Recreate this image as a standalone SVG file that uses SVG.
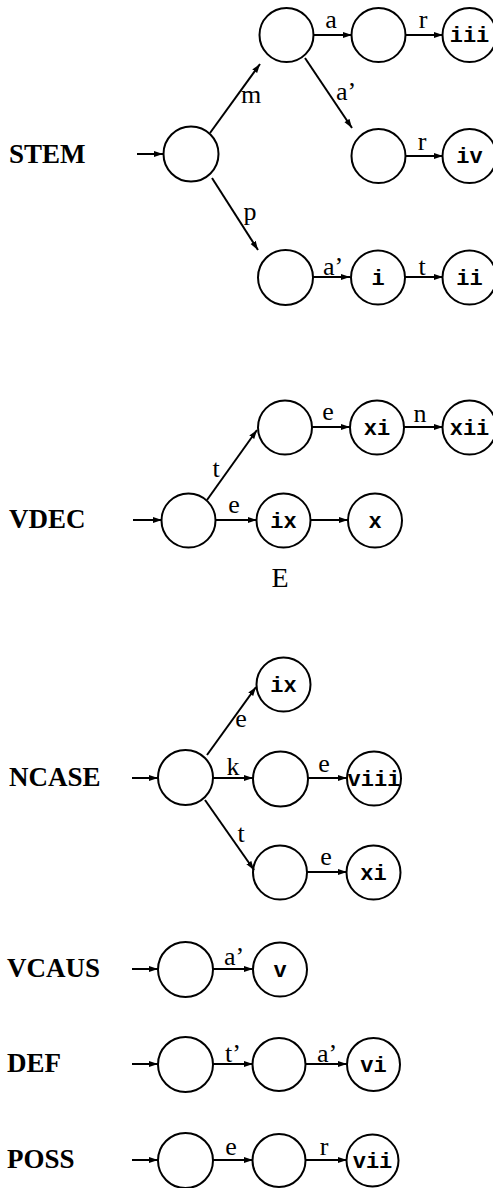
<svg xmlns="http://www.w3.org/2000/svg" width="493" height="1188" viewBox="0 0 493 1188">
<style>
.n{fill:none;stroke:#000;stroke-width:2}
.e{stroke:#000;stroke-width:2;fill:none;marker-end:url(#ah)}
.lbl{font-family:"Liberation Serif",serif;font-weight:bold;font-size:27px;fill:#000}
.el{font-family:"Liberation Serif",serif;font-size:26px;fill:#000;text-anchor:middle}
.nl{font-family:"Liberation Mono",monospace;font-weight:bold;font-size:22px;fill:#000;text-anchor:middle}
</style>
<defs>
<marker id="ah" markerUnits="userSpaceOnUse" markerWidth="10" markerHeight="8" refX="9" refY="3.5" orient="auto">
<path d="M0,0.5 L9,3.5 L0,6.5 Z" fill="#000"/>
</marker>
</defs>
<rect width="493" height="1188" fill="#fff"/>
<g id="row-labels">
<text class="lbl" x="9" y="163">STEM</text>
<text class="lbl" x="9" y="528">VDEC</text>
<text class="lbl" x="9" y="786">NCASE</text>
<text class="lbl" x="7" y="977">VCAUS</text>
<text class="lbl" x="7" y="1072">DEF</text>
<text class="lbl" x="7" y="1168">POSS</text>
</g>
<g id="connectors">
<line class="e" x1="137" y1="154" x2="163" y2="154"/>
<line class="e" x1="210" y1="133" x2="260" y2="64"/>
<line class="e" x1="313" y1="35" x2="352" y2="35"/>
<line class="e" x1="405" y1="35" x2="443" y2="35"/>
<line class="e" x1="305" y1="58" x2="352" y2="128"/>
<line class="e" x1="405" y1="156" x2="443" y2="156"/>
<line class="e" x1="212" y1="178" x2="258" y2="250"/>
<line class="e" x1="313" y1="277" x2="350" y2="277"/>
<line class="e" x1="405" y1="277" x2="443" y2="277"/>
<line class="e" x1="133" y1="520" x2="162" y2="520"/>
<line class="e" x1="207" y1="500" x2="257" y2="430"/>
<line class="e" x1="312" y1="427" x2="350" y2="427"/>
<line class="e" x1="404" y1="427" x2="443" y2="427"/>
<line class="e" x1="215" y1="520" x2="257" y2="520"/>
<line class="e" x1="310" y1="520" x2="348" y2="520"/>
<line class="e" x1="132" y1="778" x2="158" y2="778"/>
<line class="e" x1="207" y1="755" x2="256" y2="687"/>
<line class="e" x1="213" y1="778" x2="253" y2="778"/>
<line class="e" x1="308" y1="778" x2="347" y2="778"/>
<line class="e" x1="205" y1="800" x2="254" y2="870"/>
<line class="e" x1="307" y1="872" x2="347" y2="872"/>
<line class="e" x1="132" y1="969" x2="158" y2="969"/>
<line class="e" x1="213" y1="969" x2="253" y2="969"/>
<line class="e" x1="132" y1="1064" x2="158" y2="1064"/>
<line class="e" x1="213" y1="1064" x2="253" y2="1064"/>
<line class="e" x1="305" y1="1064" x2="347" y2="1064"/>
<line class="e" x1="132" y1="1160" x2="158" y2="1160"/>
<line class="e" x1="213" y1="1160" x2="253" y2="1160"/>
<line class="e" x1="305" y1="1160" x2="347" y2="1160"/>
<text class="el" x="251" y="103">m</text>
<text class="el" x="331" y="28">a</text>
<text class="el" x="423" y="28">r</text>
<text class="el" x="346" y="100">a’</text>
<text class="el" x="422" y="150">r</text>
<text class="el" x="250" y="220">p</text>
<text class="el" x="333" y="275">a’</text>
<text class="el" x="422" y="275">t</text>
<text class="el" x="216" y="477">t</text>
<text class="el" x="328" y="420">e</text>
<text class="el" x="420" y="422">n</text>
<text class="el" x="234" y="513">e</text>
<text class="el" x="241" y="727">e</text>
<text class="el" x="233" y="775">k</text>
<text class="el" x="324" y="772">e</text>
<text class="el" x="241" y="842">t</text>
<text class="el" x="326" y="865">e</text>
<text class="el" x="234" y="965">a’</text>
<text class="el" x="233" y="1062">t’</text>
<text class="el" x="327" y="1062">a’</text>
<text class="el" x="231" y="1155">e</text>
<text class="el" x="324" y="1155">r</text>
</g>
<g id="stem-0"><circle class="n" cx="191" cy="154" r="27.5"/></g>
<g id="stem-m"><circle class="n" cx="286.5" cy="35" r="27"/></g>
<g id="stem-ma"><circle class="n" cx="378.5" cy="35" r="27"/></g>
<g id="stem-iii"><circle class="n" cx="469.5" cy="35" r="27"/><text class="nl" x="469.5" y="42">iii</text></g>
<g id="stem-ma2"><circle class="n" cx="378.5" cy="156" r="27"/></g>
<g id="stem-iv"><circle class="n" cx="469.5" cy="156" r="27"/><text class="nl" x="469.5" y="163">iv</text></g>
<g id="stem-p"><circle class="n" cx="285.5" cy="277.5" r="27.5"/></g>
<g id="stem-i"><circle class="n" cx="378" cy="277.5" r="27"/><text class="nl" x="378" y="285">i</text></g>
<g id="stem-ii"><circle class="n" cx="469.5" cy="277.5" r="27"/><text class="nl" x="469.5" y="285">ii</text></g>
<g id="vdec-0"><circle class="n" cx="188.5" cy="520.5" r="27"/></g>
<g id="vdec-t"><circle class="n" cx="285" cy="427.5" r="27"/></g>
<g id="vdec-xi"><circle class="n" cx="377" cy="427.5" r="27"/><text class="nl" x="377" y="435">xi</text></g>
<g id="vdec-xii"><circle class="n" cx="469.5" cy="427.5" r="27"/><text class="nl" x="469.5" y="435">xii</text></g>
<g id="vdec-ix"><circle class="n" cx="283.5" cy="520.5" r="27"/><text class="nl" x="283.5" y="528">ix</text></g>
<g id="vdec-x"><circle class="n" cx="375" cy="520.5" r="27"/><text class="nl" x="375" y="528">x</text></g>
<text id="vdec-E" x="280" y="587" font-family="Liberation Serif, serif" font-size="28" text-anchor="middle">E</text>
<g id="ncase-0"><circle class="n" cx="185.5" cy="777.5" r="27.5"/></g>
<g id="ncase-ix"><circle class="n" cx="283.5" cy="684.5" r="27"/><text class="nl" x="283.5" y="692">ix</text></g>
<g id="ncase-k"><circle class="n" cx="280.5" cy="779" r="27.5"/></g>
<g id="ncase-viii"><circle class="n" cx="374" cy="778.5" r="27"/><text class="nl" x="374" y="786">viii</text></g>
<g id="ncase-t"><circle class="n" cx="280" cy="872.5" r="27"/></g>
<g id="ncase-xi"><circle class="n" cx="373.5" cy="872.5" r="27"/><text class="nl" x="373.5" y="880">xi</text></g>
<g id="vcaus-0"><circle class="n" cx="185.5" cy="969.5" r="27.5"/></g>
<g id="vcaus-v"><circle class="n" cx="280" cy="969.5" r="27"/><text class="nl" x="280" y="977">v</text></g>
<g id="def-0"><circle class="n" cx="185.5" cy="1064.5" r="27.5"/></g>
<g id="def-t"><circle class="n" cx="279" cy="1064.5" r="26.5"/></g>
<g id="def-vi"><circle class="n" cx="373.5" cy="1064.5" r="26.5"/><text class="nl" x="373.5" y="1072">vi</text></g>
<g id="poss-0"><circle class="n" cx="185.5" cy="1160.5" r="27.5"/></g>
<g id="poss-e"><circle class="n" cx="279" cy="1160.5" r="26.5"/></g>
<g id="poss-vii"><circle class="n" cx="372.5" cy="1160.5" r="26"/><text class="nl" x="372.5" y="1168">vii</text></g>
</svg>
